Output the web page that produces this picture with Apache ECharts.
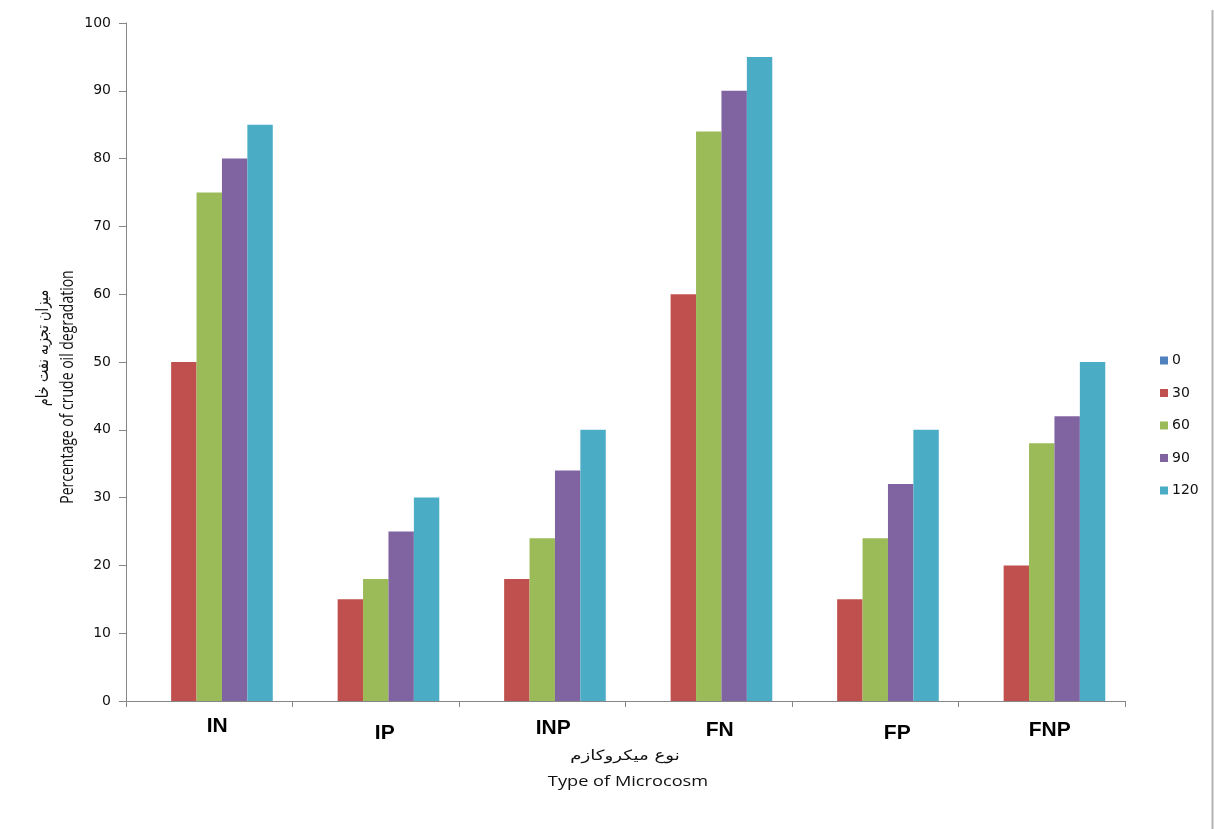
<!DOCTYPE html>
<html>
<head>
<meta charset="utf-8">
<title>Percentage of crude oil degradation</title>
<script src="https://cdn.jsdelivr.net/npm/echarts@6/dist/echarts.min.js"></script>
<style>
  html, body { margin: 0; padding: 0; background: #fff; }
  #chart { width: 1214px; height: 829px; }
</style>
</head>
<body>
<div id="chart"></div>
<script>
// Microcosm types along the x axis
const categories = ['IN', 'IP', 'INP', 'FN', 'FP', 'FNP'];
// Sampling days (legend entries)
const days = ['0', '30', '60', '90', '120'];
// Degradation (%) per microcosm for each sampling day
const day0   = [0, 0, 0, 0, 0, 0];
const day30  = [50, 15, 18, 60, 15, 20];
const day60  = [75, 18, 24, 84, 24, 38];
const day90  = [80, 25, 34, 90, 32, 42];
const day120 = [85, 30, 40, 95, 40, 50];
const yTicks = { min: 0, max: 100, interval: 10 };

const seriesValues = [day0, day30, day60, day90, day120];
const colors = ['#4F81BD', '#C0504D', '#9BBB59', '#8064A2', '#4BACC6'];
// hand-placed category labels: small downward and rightward nudges
const labelDown  = [0, 7, 2, 4, 7, 4];
const labelRight = [8, 9, 11, 11, 22, 8];

const chart = echarts.init(document.getElementById('chart'), null, { renderer: 'canvas' });

const axisGray = '#868686';

chart.setOption({
  animation: false,
  backgroundColor: '#ffffff',
  color: colors,
  grid: { left: 126, right: 89, top: 23, bottom: 128, containLabel: false },
  legend: {
    orient: 'vertical',
    left: 1155,
    top: 348,
    icon: 'rect',
    itemWidth: 8,
    itemHeight: 8,
    itemGap: 17.5,
    data: days,
    textStyle: { fontFamily: 'DejaVu Sans', fontSize: 14, color: '#111', lineHeight: 15, padding: [0, 0, 0, -1] }
  },
  xAxis: {
    type: 'category',
    data: categories.map((c, i) => ({
      value: c,
      textStyle: { padding: [labelDown[i], 0, 0, labelRight[i] * 2] }
    })),
    axisLine: { lineStyle: { color: axisGray, width: 1 } },
    axisTick: { show: true, length: 6, alignWithLabel: false, lineStyle: { color: axisGray } },
    axisLabel: {
      margin: 15,
      fontFamily: 'Liberation Sans, Arial, sans-serif',
      fontWeight: 'bold',
      fontSize: 21,
      color: '#000'
    },
    splitLine: { show: false }
  },
  yAxis: {
    type: 'value',
    min: yTicks.min,
    max: yTicks.max,
    interval: yTicks.interval,
    axisLine: { show: true, lineStyle: { color: axisGray, width: 1 } },
    axisTick: { show: true, length: 7, lineStyle: { color: axisGray } },
    axisLabel: { margin: 15, fontFamily: 'DejaVu Sans', fontSize: 14, color: '#111' },
    splitLine: { show: false }
  },
  series: days.map((d, i) => ({
    name: d,
    type: 'bar',
    data: seriesValues[i],
    barGap: '0%',
    barCategoryGap: '23.7%',
    itemStyle: { color: colors[i] }
  })),
  graphic: [
    // y axis title (Persian and English), rotated
    {
      type: 'text',
      x: 44, y: 348,
      rotation: Math.PI / 2,
      scaleY: 1.3,
      style: {
        text: 'میزان تجزیه نفت خام',
        fontFamily: 'DejaVu Sans',
        fontSize: 13,
        fill: '#111',
        align: 'center',
        verticalAlign: 'middle'
      }
    },
    {
      type: 'text',
      x: 68, y: 387,
      rotation: Math.PI / 2,
      scaleY: 1.3,
      style: {
        text: 'Percentage of crude oil degradation',
        fontFamily: 'Open Sans',
        fontSize: 14,
        fill: '#111',
        align: 'center',
        verticalAlign: 'middle'
      }
    },
    // x axis title (Persian and English)
    {
      type: 'text',
      x: 625, y: 756,
      scaleX: 1.3,
      style: {
        text: 'نوع میکروکازم',
        fontFamily: 'DejaVu Sans',
        fontSize: 14,
        fill: '#111',
        align: 'center',
        verticalAlign: 'middle'
      }
    },
    {
      type: 'text',
      x: 628, y: 782,
      scaleX: 1.3,
      style: {
        text: 'Type of Microcosm',
        fontFamily: 'Open Sans',
        fontSize: 14,
        fill: '#111',
        align: 'center',
        verticalAlign: 'middle'
      }
    },
    // frame edge on the right
    {
      type: 'line',
      shape: { x1: 1212.5, y1: 10, x2: 1212.5, y2: 829 },
      style: { stroke: '#b4b4b4', lineWidth: 2 }
    }
  ]
});
</script>
</body>
</html>
